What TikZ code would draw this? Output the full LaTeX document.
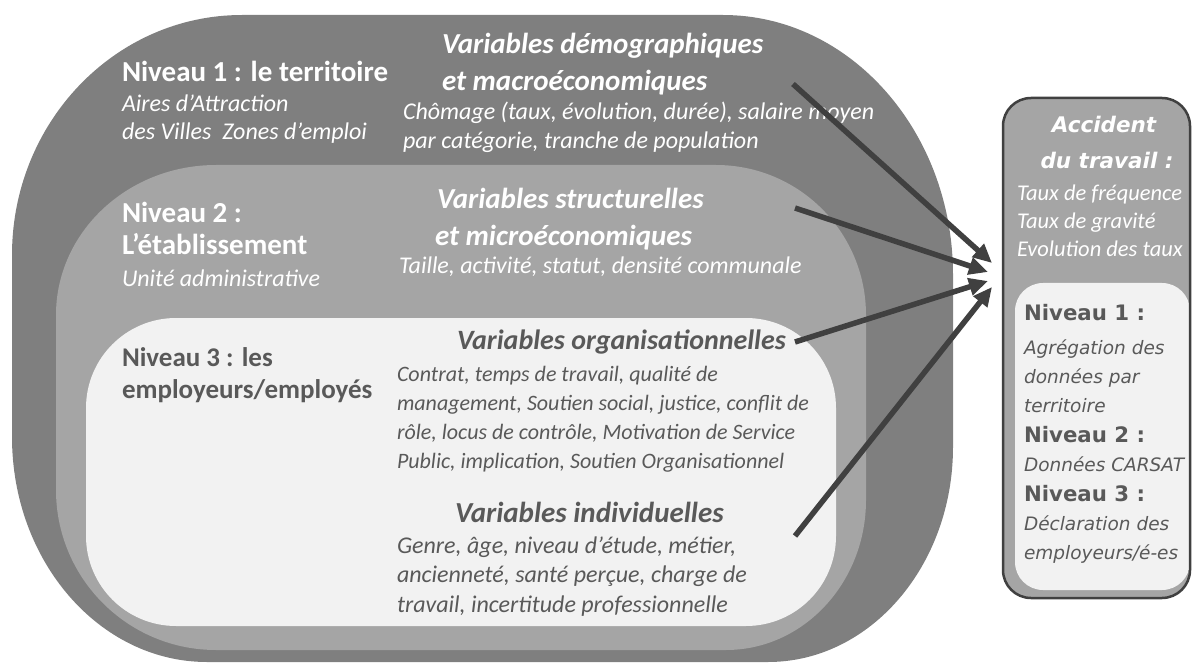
\documentclass[tikz,border=0pt]{standalone}
\usepackage{fontspec}
\setmainfont{Carlito}
\newfontfamily\dvsans{DejaVu Sans}[ItalicFont={DejaVu Sans Oblique},BoldFont={DejaVu Sans Bold},BoldItalicFont={DejaVu Sans Bold Oblique}]
\usetikzlibrary{arrows.meta}
\definecolor{lvlA}{HTML}{7F7F7F}
\definecolor{lvlB}{HTML}{A5A5A5}
\definecolor{lvlC}{HTML}{F2F2F2}
\definecolor{ink}{HTML}{595959}
\definecolor{arr}{HTML}{404040}
\begin{document}
\begin{tikzpicture}[x=1pt,y=-1pt,
  txt/.style={anchor=base west,inner sep=0pt,outer sep=0pt},
  hbold/.style={txt,font=\bfseries\fontsize{29}{32}\selectfont},
  hbolds/.style={txt,font=\bfseries\fontsize{27}{30}\selectfont},
  hbi/.style={txt,font=\bfseries\itshape\fontsize{29}{32}\selectfont},
  hbis/.style={txt,font=\bfseries\itshape\fontsize{28}{31}\selectfont},
  body/.style={txt,font=\itshape\fontsize{24}{27}\selectfont},
  orgbody/.style={txt,font=\itshape\fontsize{22}{26}\selectfont},
  rbhead/.style={anchor=base,inner sep=0pt,font=\dvsans\bfseries\itshape\fontsize{21.5}{24}\selectfont,white},
  rbsub/.style={txt,font=\itshape\fontsize{22.5}{25}\selectfont,white},
  rbniv/.style={txt,font=\dvsans\bfseries\fontsize{21.3}{24}\selectfont,ink},
  rbit/.style={txt,font=\dvsans\itshape\fontsize{18.5}{22}\selectfont,ink},
  conn/.style={draw=arr,line width=5.5pt,-{Triangle[length=19pt,width=17pt]}}
]
\useasboundingbox (0,0) rectangle (1192,663);

% level shapes
\fill[lvlA] (12,255) .. controls (12,122.5) and (115,15) .. (242,15)
  -- (723,15) .. controls (850,15) and (953,131.5) .. (953,275)
  -- (953,447) .. controls (953,565.7) and (870.1,662) .. (768,662)
  -- (207,662) .. controls (99.4,662) and (12,561.2) .. (12,437) -- cycle;
\fill[lvlB] (56,315) .. controls (56,232.2) and (127.7,165) .. (216,165)
  -- (716,165) .. controls (798.8,165) and (866,232.2) .. (866,315)
  -- (866,500) .. controls (866,582.8) and (803.3,650) .. (726,650)
  -- (216,650) .. controls (127.7,650) and (56,578.3) .. (56,490) -- cycle;
\fill[lvlC,rounded corners=90pt] (86,318) rectangle (836,626);

% right box
\fill[lvlB,rounded corners=28pt] (1003,98) rectangle (1190,598);
\fill[lvlC,rounded corners=28pt] (1015,283) rectangle (1190,590);
\draw[arr,line width=2.5pt,rounded corners=28pt] (1003,98) rectangle (1190,598);

% level 1
\node[hbold,white] (n1) at (122,82) {Niveau 1 : le territoire};
\node[body,white] (n1a) at (122,112) {Aires d’Attraction};
\node[body,white] (n1b) at (122,140) {des Villes\ \ Zones d’emploi};
\node[hbi,white] (v1a) at (442,54) {Variables démographiques};
\node[hbi,white] (v1b) at (442,91) {et macroéconomiques};
\node[body,white] (v1c) at (403,120) {Chômage (taux, évolution, durée), salaire moyen};
\node[body,white] (v1d) at (403,149) {par catégorie, tranche de population};

% level 2
\node[hbold,white] (n2) at (122,223) {Niveau 2 :};
\node[hbold,white] (n2a) at (122,255) {L’établissement};
\node[body,white] (n2b) at (122,287) {Unité administrative};
\node[hbi,white] (v2a) at (437,209) {Variables structurelles};
\node[hbi,white] (v2b) at (435,246) {et microéconomiques};
\node[body,white] (v2c) at (399,274) {Taille, activité, statut, densité communale};

% level 3
\node[hbolds,ink] (n3) at (122,366) {Niveau 3 : les};
\node[hbolds,ink] (n3a) at (122,398) {employeurs/employés};
\node[hbis,ink] (v3a) at (457,349) {Variables organisationnelles};
\node[orgbody,ink] (o1) at (397,381) {Contrat, temps de travail, qualité de};
\node[orgbody,ink] (o2) at (397,410) {management, Soutien social, justice, conflit de};
\node[orgbody,ink] (o3) at (397,439) {rôle, locus de contrôle, Motivation de Service};
\node[orgbody,ink] (o4) at (397,468) {Public, implication, Soutien Organisationnel};
\node[hbi,ink] (v4a) at (455,522) {Variables individuelles};
\node[body,ink] (i1) at (397,553) {Genre, âge, niveau d’étude, métier,};
\node[body,ink] (i2) at (397,582) {ancienneté, santé perçue, charge de};
\node[body,ink] (i3) at (397,612) {travail, incertitude professionnelle};

% right box texts
\node[rbhead] (acc1) at (1104,133) {Accident};
\node[rbhead] (acc2) at (1107,169) {du travail :};
\node[rbsub] (t1) at (1017,201) {Taux de fréquence};
\node[rbsub] (t2) at (1017,229) {Taux de gravité};
\node[rbsub] (t3) at (1017,257) {Evolution des taux};
\node[rbniv] (r1) at (1024,320) {Niveau 1 :};
\node[rbit] (r1a) at (1024,354) {Agrégation des};
\node[rbit] (r1b) at (1024,383) {données par};
\node[rbit] (r1c) at (1024,412) {territoire};
\node[rbniv] (r2) at (1024,442) {Niveau 2 :};
\node[rbit] (r2a) at (1024,471) {Données CARSAT};
\node[rbniv] (r3) at (1024,501) {Niveau 3 :};
\node[rbit] (r3a) at (1024,530) {Déclaration des};
\node[rbit] (r3b) at (1024,559) {employeurs/é-es};

% arrows
\coordinate (s1) at (793,84);  \coordinate (e1) at (992,263);
\coordinate (s2) at (795,208); \coordinate (e2) at (988,272);
\coordinate (s3) at (795,342); \coordinate (e3) at (988,281);
\coordinate (s4) at (795,536); \coordinate (e4) at (992,287);
\draw[conn] (s1) -- (e1);
\draw[conn] (s2) -- (e2);
\draw[conn] (s3) -- (e3);
\draw[conn] (s4) -- (e4);
\end{tikzpicture}
\end{document}
